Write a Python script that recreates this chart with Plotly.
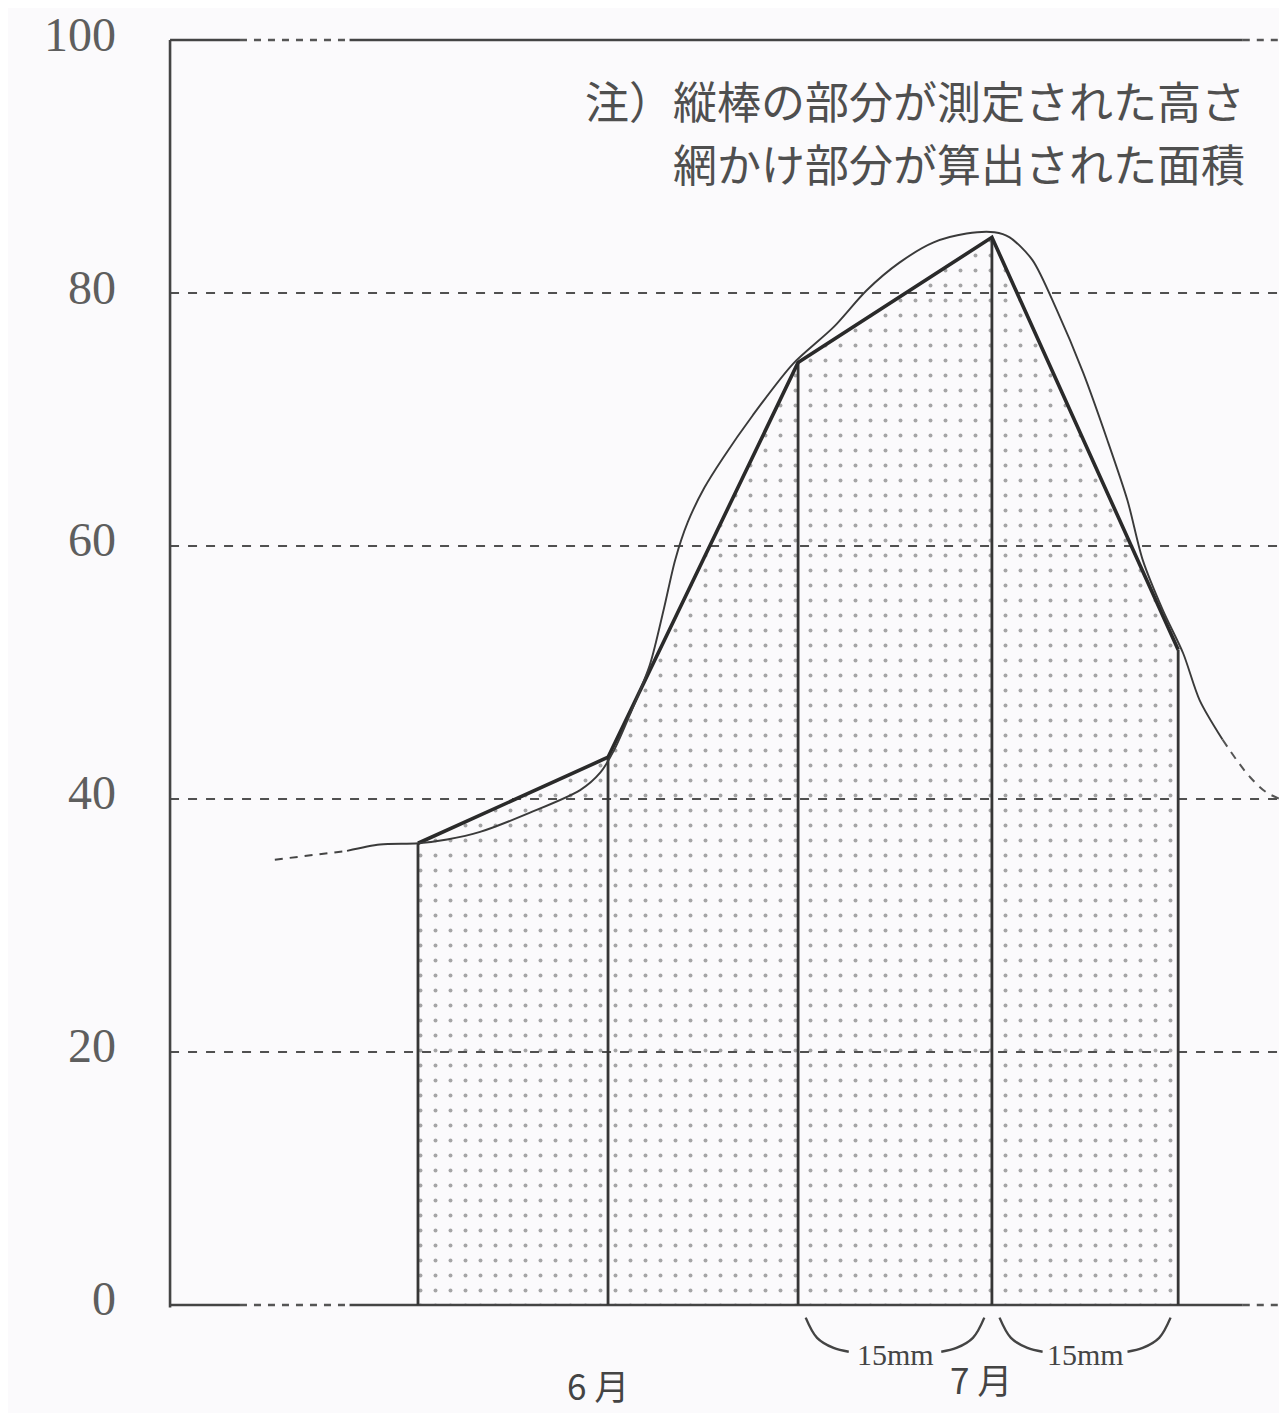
import plotly.graph_objects as go

# ---------------- data ----------------
# measurement bars: horizontal position (mm) and measured height
bar_x = [0, 15, 30, 45.3, 60]
bar_h = [36.5, 43.3, 74.5, 84.4, 51.8]

# freehand smooth growth curve (solid part)
curve_x = [-5.6, -3.0, 0.0, 2.3, 4.9, 8.8, 12.8, 14.4, 15.5, 16.7, 18.3, 19.4,
           20.3, 21.3, 22.6, 24.1, 26.4, 29.6, 32.8, 35.4, 38.0, 40.7, 43.3,
           45.5, 46.7, 48.5, 50.4, 52.5, 54.4, 56.0, 57.2, 58.8, 60.4, 61.7, 63.5]
curve_y = [35.9, 36.4, 36.5, 36.8, 37.4, 38.9, 40.7, 42.1, 43.9, 46.6, 50.6, 55.0,
           58.9, 61.9, 64.6, 67.0, 70.3, 74.4, 77.3, 80.2, 82.4, 84.0, 84.7,
           84.8, 84.4, 82.6, 78.7, 73.7, 68.4, 63.6, 58.9, 54.9, 51.5, 47.8, 44.7]
# dashed extrapolated ends of the curve
lead_x = [-11.3, -5.6]
lead_y = [35.2, 35.9]
tail_x = [63.5, 64.6, 65.7, 67.0, 68.6]
tail_y = [44.7, 43.1, 41.7, 40.5, 39.8]

y_ticks = [0, 20, 40, 60, 80, 100]
grid_vals = [20, 40, 60, 80]
frame_vals = [0, 100]
month_labels = ["6 月", "7 月"]
month_x = [14.2, 44.4]
month_y = [-6.3, -5.8]
span_label = "15mm"
note_lines = ["注）縦棒の部分が測定された高さ", "網かけ部分が算出された面積"]

# ---------------- layout constants ----------------
# the page body adds an 8 px offset; the figure is sized/ranged to compensate
W, H = 1279, 1405
X_MIN, X_MAX = -32.36, 68.59
Y_MIN, Y_MAX = -8.54, 102.53
AXIS_X = -19.57
BREAK_A, BREAK_B, BREAK_C = -14.05, -5.4, 65.1
BG = "#fbfafc"
INK = "#363636"
GRID = "#505050"

fig = go.Figure()

# stippled area under the polyline
fig.add_trace(go.Scatter(
    x=[bar_x[0]] + bar_x + [bar_x[-1]],
    y=[0] + bar_h + [0],
    mode="lines", line=dict(width=0), fill="toself",
    fillcolor="rgba(0,0,0,0)",
    fillpattern=dict(shape=".", size=15, solidity=0.055,
                     fgcolor="#505050", bgcolor="rgba(0,0,0,0)"),
    hoverinfo="skip"))

# dashed grid lines
gx, gy = [], []
for v in grid_vals:
    gx += [AXIS_X, X_MAX, None]
    gy += [v, v, None]
fig.add_trace(go.Scatter(x=gx, y=gy, mode="lines",
                         line=dict(color=GRID, width=2.2, dash="9px,9px"),
                         hoverinfo="skip"))

# frame: top and bottom lines with broken (dotted) parts
sx, sy, dx, dy = [], [], [], []
for v in frame_vals:
    sx += [AXIS_X, BREAK_A, None, BREAK_B, BREAK_C, None]
    sy += [v, v, None, v, v, None]
    dx += [BREAK_A, BREAK_B, None, BREAK_C, X_MAX, None]
    dy += [v, v, None, v, v, None]
fig.add_trace(go.Scatter(x=sx, y=sy, mode="lines",
                         line=dict(color="#444444", width=2.6), hoverinfo="skip"))
fig.add_trace(go.Scatter(x=dx, y=dy, mode="lines",
                         line=dict(color="#555555", width=2.6, dash="7px,7px"),
                         hoverinfo="skip"))
# left axis line
fig.add_trace(go.Scatter(x=[AXIS_X, AXIS_X], y=[-0.2, 100], mode="lines",
                         line=dict(color="#444444", width=2.6), hoverinfo="skip"))

# vertical measurement bars
bx, by = [], []
for xv, hv in zip(bar_x, bar_h):
    bx += [xv, xv, None]
    by += [0, hv, None]
fig.add_trace(go.Scatter(x=bx, y=by, mode="lines",
                         line=dict(color=INK, width=2.8), hoverinfo="skip"))

# polyline joining the bar tops
fig.add_trace(go.Scatter(x=bar_x, y=bar_h, mode="lines",
                         line=dict(color="#2a2a2a", width=3.6), hoverinfo="skip"))

# smooth freehand curve
fig.add_trace(go.Scatter(x=curve_x, y=curve_y, mode="lines",
                         line=dict(color="#3a3a3a", width=1.9, shape="spline", smoothing=0.8),
                         hoverinfo="skip"))
fig.add_trace(go.Scatter(x=lead_x, y=lead_y, mode="lines",
                         line=dict(color="#444444", width=2, dash="8px,7px"),
                         hoverinfo="skip"))
fig.add_trace(go.Scatter(x=tail_x, y=tail_y, mode="lines",
                         line=dict(color="#555555", width=2, dash="8px,7px", shape="spline"),
                         hoverinfo="skip"))

# braces under the last two intervals
brx, bry = [], []
arm_dx = [0.6, 1.5, 2.8, 4.0]
arm_dy = [-1.0, -2.6, -3.4, -3.7]
for i in (2, 3):
    a, b = bar_x[i], bar_x[i + 1]
    brx += [a + d for d in arm_dx] + [None]
    bry += arm_dy + [None]
    brx += [b - d for d in arm_dx] + [None]
    bry += arm_dy + [None]
fig.add_trace(go.Scatter(x=brx, y=bry, mode="lines",
                         line=dict(color="#444444", width=2.4, shape="spline"),
                         hoverinfo="skip"))

annotations = []
# y tick labels
for v in y_ticks:
    annotations.append(dict(x=-23.7, y=v, xref="x", yref="y", text=str(v),
                            xanchor="right", yanchor="middle", yshift=6, showarrow=False,
                            font=dict(family="Liberation Serif, serif", size=48, color="#5e5e5e")))
# interval labels
for i in (2, 3):
    annotations.append(dict(x=(bar_x[i] + bar_x[i + 1]) / 2, y=-3.95, xref="x", yref="y",
                            text=span_label, showarrow=False, xanchor="center", yanchor="middle",
                            font=dict(family="Liberation Serif, serif", size=30, color="#444444")))
# month labels
for t, xv, yv in zip(month_labels, month_x, month_y):
    annotations.append(dict(x=xv, y=yv, xref="x", yref="y", text=t, showarrow=False,
                            xanchor="center", yanchor="middle",
                            font=dict(family="Noto Sans CJK JP", size=35, color="#444444")))
# note
for t, yv in zip(note_lines, [95.26, 90.28]):
    annotations.append(dict(x=65.43, y=yv, xref="x", yref="y", text=t, showarrow=False,
                            xanchor="right", yanchor="middle",
                            font=dict(family="Noto Sans CJK JP", size=44, color="#4f4f4f")))

fig.update_layout(
    width=W, height=H,
    margin=dict(l=0, r=0, t=0, b=0),
    paper_bgcolor=BG, plot_bgcolor=BG,
    showlegend=False,
    xaxis=dict(range=[X_MIN, X_MAX], visible=False, fixedrange=True),
    yaxis=dict(range=[Y_MIN, Y_MAX], visible=False, fixedrange=True),
    annotations=annotations,
)

fig.write_html("out.html")
